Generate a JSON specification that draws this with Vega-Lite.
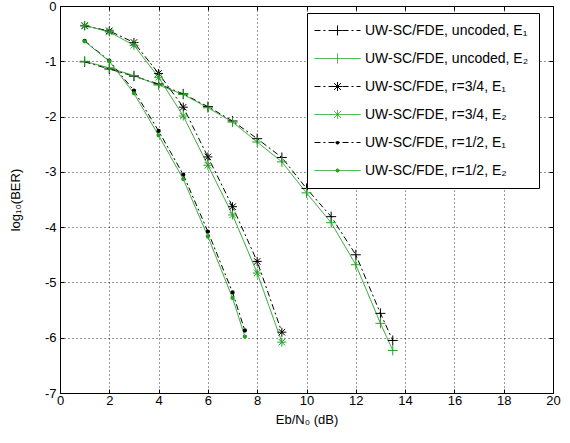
{
  "$schema": "https://vega.github.io/schema/vega-lite/v6.json",
  "width": 493,
  "height": 387,
  "autosize": {"type": "none"},
  "padding": {"left": 60, "top": 6, "right": 17, "bottom": 50},
  "background": "white",
  "config": {
    "view": {"stroke": "#000", "strokeWidth": 1},
    "font": "Liberation Sans",
    "axis": {
      "labelFont": "Liberation Sans",
      "titleFont": "Liberation Sans",
      "labelFontSize": 13,
      "titleFontSize": 13,
      "titleFontWeight": "normal",
      "labelColor": "#000",
      "titleColor": "#000",
      "domainColor": "#000",
      "tickColor": "#000",
      "gridColor": "#000",
      "gridDash": [1, 3],
      "gridOpacity": 0.8
    },
    "legend": {"labelFont": "Liberation Sans"}
  },
  "data": {
    "values": [
      {"s": "UW-SC/FDE, uncoded, E₁", "x": 1, "y": -1.01},
      {"s": "UW-SC/FDE, uncoded, E₁", "x": 2, "y": -1.14},
      {"s": "UW-SC/FDE, uncoded, E₁", "x": 3, "y": -1.27},
      {"s": "UW-SC/FDE, uncoded, E₁", "x": 4, "y": -1.41},
      {"s": "UW-SC/FDE, uncoded, E₁", "x": 5, "y": -1.59},
      {"s": "UW-SC/FDE, uncoded, E₁", "x": 6, "y": -1.82},
      {"s": "UW-SC/FDE, uncoded, E₁", "x": 7, "y": -2.08},
      {"s": "UW-SC/FDE, uncoded, E₁", "x": 8, "y": -2.40},
      {"s": "UW-SC/FDE, uncoded, E₁", "x": 9, "y": -2.74},
      {"s": "UW-SC/FDE, uncoded, E₁", "x": 10, "y": -3.30},
      {"s": "UW-SC/FDE, uncoded, E₁", "x": 11, "y": -3.81},
      {"s": "UW-SC/FDE, uncoded, E₁", "x": 12, "y": -4.50},
      {"s": "UW-SC/FDE, uncoded, E₁", "x": 13, "y": -5.56},
      {"s": "UW-SC/FDE, uncoded, E₁", "x": 13.5, "y": -6.05},
      {"s": "UW-SC/FDE, uncoded, E₂", "x": 1, "y": -1.0},
      {"s": "UW-SC/FDE, uncoded, E₂", "x": 2, "y": -1.12},
      {"s": "UW-SC/FDE, uncoded, E₂", "x": 3, "y": -1.26},
      {"s": "UW-SC/FDE, uncoded, E₂", "x": 4, "y": -1.43},
      {"s": "UW-SC/FDE, uncoded, E₂", "x": 5, "y": -1.60},
      {"s": "UW-SC/FDE, uncoded, E₂", "x": 6, "y": -1.84},
      {"s": "UW-SC/FDE, uncoded, E₂", "x": 7, "y": -2.10},
      {"s": "UW-SC/FDE, uncoded, E₂", "x": 8, "y": -2.46},
      {"s": "UW-SC/FDE, uncoded, E₂", "x": 9, "y": -2.82},
      {"s": "UW-SC/FDE, uncoded, E₂", "x": 10, "y": -3.38},
      {"s": "UW-SC/FDE, uncoded, E₂", "x": 11, "y": -3.92},
      {"s": "UW-SC/FDE, uncoded, E₂", "x": 12, "y": -4.68},
      {"s": "UW-SC/FDE, uncoded, E₂", "x": 13, "y": -5.74},
      {"s": "UW-SC/FDE, uncoded, E₂", "x": 13.5, "y": -6.23},
      {"s": "UW-SC/FDE, r=3/4, E₁", "x": 1, "y": -0.36},
      {"s": "UW-SC/FDE, r=3/4, E₁", "x": 2, "y": -0.45},
      {"s": "UW-SC/FDE, r=3/4, E₁", "x": 3, "y": -0.66},
      {"s": "UW-SC/FDE, r=3/4, E₁", "x": 4, "y": -1.22},
      {"s": "UW-SC/FDE, r=3/4, E₁", "x": 5, "y": -1.83},
      {"s": "UW-SC/FDE, r=3/4, E₁", "x": 6, "y": -2.73},
      {"s": "UW-SC/FDE, r=3/4, E₁", "x": 7, "y": -3.63},
      {"s": "UW-SC/FDE, r=3/4, E₁", "x": 8, "y": -4.62},
      {"s": "UW-SC/FDE, r=3/4, E₁", "x": 9, "y": -5.90},
      {"s": "UW-SC/FDE, r=3/4, E₂", "x": 1, "y": -0.35},
      {"s": "UW-SC/FDE, r=3/4, E₂", "x": 2, "y": -0.47},
      {"s": "UW-SC/FDE, r=3/4, E₂", "x": 3, "y": -0.71},
      {"s": "UW-SC/FDE, r=3/4, E₂", "x": 4, "y": -1.29},
      {"s": "UW-SC/FDE, r=3/4, E₂", "x": 5, "y": -1.99},
      {"s": "UW-SC/FDE, r=3/4, E₂", "x": 6, "y": -2.88},
      {"s": "UW-SC/FDE, r=3/4, E₂", "x": 7, "y": -3.78},
      {"s": "UW-SC/FDE, r=3/4, E₂", "x": 8, "y": -4.83},
      {"s": "UW-SC/FDE, r=3/4, E₂", "x": 9, "y": -6.08},
      {"s": "UW-SC/FDE, r=1/2, E₁", "x": 1, "y": -0.63},
      {"s": "UW-SC/FDE, r=1/2, E₁", "x": 2, "y": -0.99},
      {"s": "UW-SC/FDE, r=1/2, E₁", "x": 3, "y": -1.53},
      {"s": "UW-SC/FDE, r=1/2, E₁", "x": 4, "y": -2.26},
      {"s": "UW-SC/FDE, r=1/2, E₁", "x": 5, "y": -3.05},
      {"s": "UW-SC/FDE, r=1/2, E₁", "x": 6, "y": -4.08},
      {"s": "UW-SC/FDE, r=1/2, E₁", "x": 7, "y": -5.18},
      {"s": "UW-SC/FDE, r=1/2, E₁", "x": 7.5, "y": -5.87},
      {"s": "UW-SC/FDE, r=1/2, E₂", "x": 1, "y": -0.64},
      {"s": "UW-SC/FDE, r=1/2, E₂", "x": 2, "y": -1.0},
      {"s": "UW-SC/FDE, r=1/2, E₂", "x": 3, "y": -1.58},
      {"s": "UW-SC/FDE, r=1/2, E₂", "x": 4, "y": -2.34},
      {"s": "UW-SC/FDE, r=1/2, E₂", "x": 5, "y": -3.13},
      {"s": "UW-SC/FDE, r=1/2, E₂", "x": 6, "y": -4.17},
      {"s": "UW-SC/FDE, r=1/2, E₂", "x": 7, "y": -5.28},
      {"s": "UW-SC/FDE, r=1/2, E₂", "x": 7.5, "y": -5.98}
    ]
  },
  "layer": [
    {
      "mark": {"type": "line", "strokeWidth": 1},
      "encoding": {
        "x": {
          "field": "x", "type": "quantitative",
          "scale": {"domain": [0, 20], "nice": false, "zero": false},
          "axis": {"orient": "bottom", "values": [0, 2, 4, 6, 8, 10, 12, 14, 16, 18, 20], "title": "Eb/N₀ (dB)", "tickSize": -4, "labelPadding": 5, "titlePadding": 6, "labelFlush": false}
        },
        "y": {
          "field": "y", "type": "quantitative",
          "scale": {"domain": [-7, 0], "nice": false, "zero": false},
          "axis": {"orient": "left", "values": [0, -1, -2, -3, -4, -5, -6, -7], "labelExpr": "'' + datum.value", "title": "log₁₀(BER)", "tickSize": -4, "labelPadding": 8, "titlePadding": 22, "labelFlush": false}
        },
        "color": {
          "field": "s", "type": "nominal",
          "scale": {
            "domain": ["UW-SC/FDE, uncoded, E₁", "UW-SC/FDE, uncoded, E₂", "UW-SC/FDE, r=3/4, E₁", "UW-SC/FDE, r=3/4, E₂", "UW-SC/FDE, r=1/2, E₁", "UW-SC/FDE, r=1/2, E₂"],
            "range": ["#000000", "#22a022", "#000000", "#22a022", "#000000", "#22a022"]
          },
          "legend": {
            "title": null,
            "orient": "none",
            "legendX": 247,
            "legendY": 7,
            "strokeColor": "#000",
            "fillColor": "#fff",
            "padding": 10,
            "symbolOffset": 13,
            "labelOffset": 20,
            "symbolSize": 196,
            "symbolStrokeWidth": 1,
            "rowPadding": 13,
            "labelFontSize": 14,
            "labelColor": "#000",
            "labelLimit": 400,
            "encode": {
              "symbols": {
                "update": {
                  "shape": {"signal": "['M-3.286,0H3.286M0,0V-0.714M0,0V0.714M0,0H-0.714M0,0H0.714', 'M-3.286,0H3.286M0,0V-0.714M0,0V0.714', 'M-3.286,0H3.286M0,0V-0.643M0,0V0.643M0,0H-0.643M0,0H0.643M0,0L-0.49,-0.49M0,0L0.49,0.49M0,0L-0.49,0.49M0,0L0.49,-0.49', 'M-3.286,0H3.286M0,0V-0.643M0,0V0.643M0,0L-0.49,-0.49M0,0L0.49,0.49M0,0L-0.49,0.49M0,0L0.49,-0.49', 'M-3.286,0H3.286M-0.23,0A0.23,0.23 0 1,0 0.23,0A0.23,0.23 0 1,0 -0.23,0Z', 'M-3.286,0H3.286M-0.23,0A0.23,0.23 0 1,0 0.23,0A0.23,0.23 0 1,0 -0.23,0Z'][datum.index]"},
                  "fill": {"signal": "scale('color', datum.value)"}
                }
              }
            }
          }
        },
        "strokeDash": {
          "field": "s", "type": "nominal",
          "scale": {
            "domain": ["UW-SC/FDE, uncoded, E₁", "UW-SC/FDE, uncoded, E₂", "UW-SC/FDE, r=3/4, E₁", "UW-SC/FDE, r=3/4, E₂", "UW-SC/FDE, r=1/2, E₁", "UW-SC/FDE, r=1/2, E₂"],
            "range": [[6, 3, 2, 3], [1, 0], [6, 3, 2, 3], [1, 0], [6, 3, 2, 3], [1, 0]]
          },
          "legend": null
        }
      }
    },
    {
      "transform": [{"filter": {"field": "s", "oneOf": ["UW-SC/FDE, uncoded, E₁", "UW-SC/FDE, uncoded, E₂"]}}],
      "mark": {"type": "point", "shape": "M0,-1V1M-1,0H1", "filled": false, "opacity": 1, "strokeWidth": 1, "size": 100},
      "encoding": {
        "x": {
          "field": "x", "type": "quantitative",
          "axis": {"orient": "top", "values": [0, 2, 4, 6, 8, 10, 12, 14, 16, 18, 20], "labels": false, "title": null, "grid": false, "domain": false, "tickSize": -4}
        },
        "y": {
          "field": "y", "type": "quantitative",
          "axis": {"orient": "right", "values": [0, -1, -2, -3, -4, -5, -6, -7], "labels": false, "title": null, "grid": false, "domain": false, "tickSize": -4}
        },
        "stroke": {
          "field": "s", "type": "nominal",
          "scale": {
            "domain": ["UW-SC/FDE, uncoded, E₁", "UW-SC/FDE, uncoded, E₂", "UW-SC/FDE, r=3/4, E₁", "UW-SC/FDE, r=3/4, E₂", "UW-SC/FDE, r=1/2, E₁", "UW-SC/FDE, r=1/2, E₂"],
            "range": ["#000000", "#22a022", "#000000", "#22a022", "#000000", "#22a022"]
          },
          "legend": null
        }
      }
    },
    {
      "transform": [{"filter": {"field": "s", "oneOf": ["UW-SC/FDE, r=3/4, E₁", "UW-SC/FDE, r=3/4, E₂"]}}],
      "mark": {"type": "point", "shape": "M0,-0.9V0.9M-0.9,0H0.9M-0.65,-0.65L0.65,0.65M-0.65,0.65L0.65,-0.65", "filled": false, "opacity": 1, "strokeWidth": 1, "size": 100},
      "encoding": {
        "x": {"field": "x", "type": "quantitative", "axis": null},
        "y": {"field": "y", "type": "quantitative", "axis": null},
        "stroke": {"field": "s", "type": "nominal", "legend": null}
      }
    },
    {
      "transform": [{"filter": {"field": "s", "oneOf": ["UW-SC/FDE, r=1/2, E₁", "UW-SC/FDE, r=1/2, E₂"]}}],
      "mark": {"type": "point", "shape": "circle", "filled": false, "opacity": 1, "strokeWidth": 1.5, "size": 8},
      "encoding": {
        "x": {"field": "x", "type": "quantitative", "axis": null},
        "y": {"field": "y", "type": "quantitative", "axis": null},
        "stroke": {"field": "s", "type": "nominal", "legend": null},
        "fill": {
          "field": "s", "type": "nominal",
          "scale": {
            "domain": ["UW-SC/FDE, uncoded, E₁", "UW-SC/FDE, uncoded, E₂", "UW-SC/FDE, r=3/4, E₁", "UW-SC/FDE, r=3/4, E₂", "UW-SC/FDE, r=1/2, E₁", "UW-SC/FDE, r=1/2, E₂"],
            "range": ["#000000", "#22a022", "#000000", "#22a022", "#000000", "#22a022"]
          },
          "legend": null
        }
      }
    }
  ]
}
